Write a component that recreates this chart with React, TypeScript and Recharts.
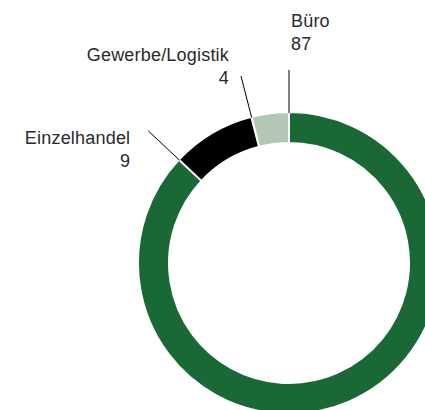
import React from 'react'
import { PieChart, Pie, Cell } from 'recharts'

const categories = ['Büro', 'Einzelhandel', 'Gewerbe/Logistik']
const values = [87, 9, 4]
const colors = ['#1b6837', '#000000', '#b2c8b4']

// where each label's text sits relative to the end of its leader line
const labelOffsets = [
  { dx: 2, dy: -43, anchor: 'start' },
  { dx: -18, dy: 13, anchor: 'end' },
  { dx: -12, dy: -15, anchor: 'end' },
]

const data = categories.map((name, i) => ({ name, value: values[i] }))

const RADIAN = Math.PI / 180

function polar(cx: number, cy: number, r: number, angle: number) {
  return { x: cx + Math.cos(-angle * RADIAN) * r, y: cy + Math.sin(-angle * RADIAN) * r }
}

function renderLabel(props: any) {
  const { cx, cy, startAngle, index, name, value } = props
  const from = polar(cx, cy, 150, startAngle)
  const to = polar(cx, cy, 193, startAngle)
  const off = labelOffsets[index]
  const tx = to.x + off.dx
  const ty = to.y + off.dy
  return (
    <g>
      <line x1={from.x} y1={from.y} x2={to.x} y2={to.y} stroke="#000" strokeWidth={1} />
      <text
        x={tx}
        y={ty}
        textAnchor={off.anchor}
        fill="#2a2a2a"
        fontSize={18}
        letterSpacing={0.2}
        fontFamily="'Liberation Sans', Arial, sans-serif"
      >
        <tspan x={tx} dy={0}>{name}</tspan>
        <tspan x={tx} dy={23}>{value}</tspan>
      </text>
    </g>
  )
}

export default function App() {
  return (
    <div style={{ position: 'absolute', left: 0, top: 0, width: 425, height: 410, background: '#fff', overflow: 'hidden' }}>
      <PieChart width={425} height={410} margin={{ top: 0, right: 0, bottom: 0, left: 0 }}>
        <Pie
          data={data}
          dataKey="value"
          nameKey="name"
          cx={289}
          cy={263}
          innerRadius={120}
          outerRadius={151}
          startAngle={90}
          endAngle={-270}
          stroke="#fff"
          strokeWidth={2}
          label={renderLabel}
          labelLine={false}
          isAnimationActive={false}
        >
          {data.map((d, i) => (
            <Cell key={d.name} fill={colors[i]} />
          ))}
        </Pie>
      </PieChart>
    </div>
  )
}
